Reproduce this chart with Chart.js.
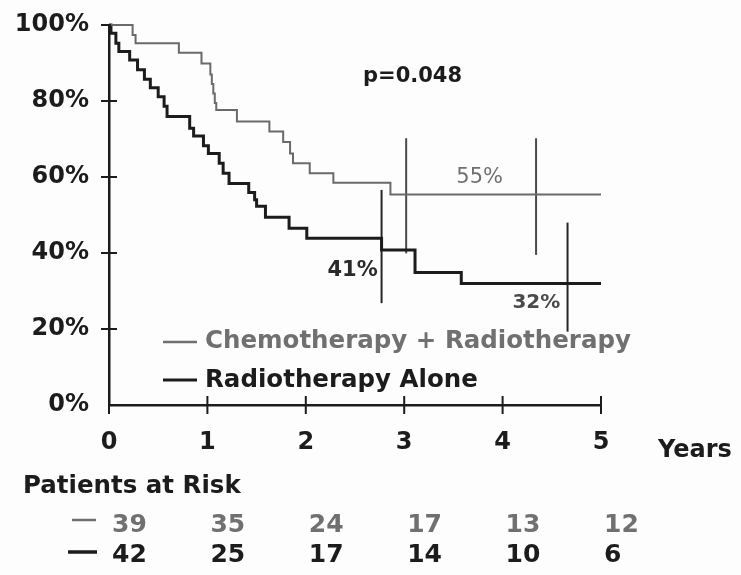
<!DOCTYPE html>
<html>
<head>
<meta charset="utf-8">
<title>Survival curves</title>
<script src="https://cdn.jsdelivr.net/npm/chart.js@4.4.1/dist/chart.umd.min.js"></script>
<style>
  html, body { margin: 0; padding: 0; background: #fdfdfd; }
  #wrap { position: relative; width: 741px; height: 575px; }
</style>
</head>
<body>
<div id="wrap"><canvas id="survChart"></canvas></div>
<script>
// Kaplan-Meier curves (years, % surviving)
var chemoYears = [0, 0.24, 0.27, 0.71, 0.94, 1.03, 1.045, 1.06, 1.075, 1.09, 1.30, 1.63, 1.77, 1.84, 1.87, 2.04, 2.28, 2.86, 5.0];
var chemoSurv  = [100, 97.4, 95.2, 92.7, 89.9, 87.0, 84.5, 82.0, 79.5, 77.6, 74.6, 72.0, 69.2, 66.2, 63.6, 61.0, 58.5, 55.4, 55.4];

var radioYears = [0, 0.02, 0.07, 0.10, 0.21, 0.29, 0.36, 0.42, 0.50, 0.56, 0.59, 0.82, 0.86, 0.96, 1.01, 1.12, 1.16, 1.22, 1.42, 1.48, 1.50, 1.59, 1.83, 2.01, 2.77, 3.11, 3.58, 5.0];
var radioSurv  = [100, 97.8, 95.2, 93.0, 90.8, 88.2, 85.7, 83.5, 81.1, 78.6, 75.9, 72.8, 70.8, 68.2, 66.2, 63.6, 61.0, 58.3, 55.9, 54.0, 52.3, 49.4, 46.5, 43.9, 40.8, 34.9, 32.0, 32.0];

// confidence bars: [year, low, high]
var chemoCI = [[3.02, 39.9, 70.2], [4.34, 39.5, 70.2]];
var radioCI = [[2.77, 26.8, 56.6], [4.66, 19.3, 48.0]];

var seriesNames = ['Chemotherapy + Radiotherapy', 'Radiotherapy Alone'];
var riskYears = [0, 1, 2, 3, 4, 5];
var chemoRisk = [39, 35, 24, 17, 13, 12];
var radioRisk = [42, 25, 17, 14, 10, 6];
var pValue = 'p=0.048';
var endLabels = [['55%', 3.53, 55.4], ['41%', 2.22, 41], ['32%', 4.1, 32]];

var FONT = '"DejaVu Sans", "Liberation Sans", Arial, sans-serif';
var GREY = '#707070';
var DARK = '#1c1c1c';

function toPoints(xs, ys) {
    var pts = [];
    for (var i = 0; i < xs.length; i++) {
        pts.push({x: xs[i], y: ys[i]});
    }
    return pts;
}

function ciDataset(bar, color) {
    return {
        data: [{x: bar[0], y: bar[1]}, {x: bar[0], y: bar[2]}],
        borderColor: color,
        borderWidth: 2,
        pointRadius: 0,
        clip: false
    };
}

function text(ctx, str, x, y, size, weight, color) {
    ctx.font = weight + ' ' + size + 'px ' + FONT;
    ctx.fillStyle = color;
    ctx.textAlign = 'left';
    ctx.textBaseline = 'alphabetic';
    ctx.fillText(str, x, y);
}

function dash(ctx, x1, x2, y, color, width) {
    ctx.strokeStyle = color;
    ctx.lineWidth = width;
    ctx.beginPath();
    ctx.moveTo(x1, y);
    ctx.lineTo(x2, y);
    ctx.stroke();
}

// everything the figure has besides the curves: crossing ticks, legend, labels, risk table
var extrasPlugin = {
    id: 'extras',
    beforeDraw: function(chart) {
        var ctx = chart.ctx;
        ctx.save();
        ctx.fillStyle = '#fdfdfd';
        ctx.fillRect(0, 0, chart.width, chart.height);
        ctx.restore();
    },
    afterDraw: function(chart) {
        var ctx = chart.ctx;
        var xs = chart.scales.x;
        var ys = chart.scales.y;
        var area = chart.chartArea;
        var i;

        ctx.save();
        ctx.strokeStyle = DARK;
        ctx.lineWidth = 2;
        ctx.beginPath();
        for (i = 20; i <= 100; i += 20) {
            ctx.moveTo(area.left - 8, ys.getPixelForValue(i));
            ctx.lineTo(area.left + (i == 100 ? 2 : 8), ys.getPixelForValue(i));
        }
        for (i = 0; i <= 5; i++) {
            ctx.moveTo(xs.getPixelForValue(i), area.bottom - (i == 0 ? 0 : 9));
            ctx.lineTo(xs.getPixelForValue(i), area.bottom + 9);
        }
        ctx.stroke();

        text(ctx, pValue, 363, 82, 21, 'bold', DARK);

        text(ctx, endLabels[0][0], xs.getPixelForValue(endLabels[0][1]), ys.getPixelForValue(endLabels[0][2]) - 11, 21, 'normal', GREY);
        text(ctx, endLabels[1][0], xs.getPixelForValue(endLabels[1][1]), ys.getPixelForValue(endLabels[1][2]) + 27, 21, 'bold', '#2a2a2a');
        text(ctx, endLabels[2][0], xs.getPixelForValue(endLabels[2][1]), ys.getPixelForValue(endLabels[2][2]) + 25, 20, 'bold', '#4a4a4a');

        // legend
        dash(ctx, 163, 197, 342, GREY, 2.5);
        text(ctx, seriesNames[0], 205, 348, 24.5, 'bold', GREY);
        dash(ctx, 163, 197, 380, DARK, 3);
        text(ctx, seriesNames[1], 205, 387, 24.5, 'bold', DARK);

        text(ctx, 'Years', 658, 457, 24, 'bold', DARK);

        // patients at risk
        text(ctx, 'Patients at Risk', 23, 493, 24.5, 'bold', DARK);
        dash(ctx, 72, 96, 520, GREY, 2.5);
        dash(ctx, 68, 97, 552, DARK, 3.5);
        for (i = 0; i < riskYears.length; i++) {
            var left = xs.getPixelForValue(riskYears[i]) + 3;
            text(ctx, String(chemoRisk[i]), left, 532, 25, 'bold', GREY);
            text(ctx, String(radioRisk[i]), left, 562, 25, 'bold', DARK);
        }
        ctx.restore();
    }
};

var datasets = [
    {
        label: seriesNames[0],
        data: toPoints(chemoYears, chemoSurv),
        borderColor: '#6a6a6a',
        borderWidth: 2,
        stepped: 'before',
        pointRadius: 0,
        clip: false
    },
    {
        label: seriesNames[1],
        data: toPoints(radioYears, radioSurv),
        borderColor: DARK,
        borderWidth: 3,
        stepped: 'before',
        pointRadius: 0,
        clip: false
    }
];
chemoCI.forEach(function(bar) { datasets.push(ciDataset(bar, '#4a4a4a')); });
radioCI.forEach(function(bar) { datasets.push(ciDataset(bar, '#262626')); });

new Chart(document.getElementById('survChart'), {
    type: 'line',
    data: { datasets: datasets },
    options: {
        responsive: true,
        maintainAspectRatio: false,
        animation: false,
        layout: { padding: { left: 0, top: 25, right: 140, bottom: 120 } },
        plugins: {
            legend: { display: false },
            tooltip: { enabled: false }
        },
        scales: {
            x: {
                type: 'linear',
                min: 0,
                max: 5,
                grid: { display: false },
                border: { display: true, color: DARK, width: 2.5 },
                ticks: {
                    stepSize: 1,
                    padding: 15,
                    color: DARK,
                    font: { family: FONT, size: 24, weight: 'bold' }
                },
                afterFit: function(scale) {
                    scale.height = 50;
                    scale.paddingLeft = 0;
                    scale.paddingRight = 0;
                }
            },
            y: {
                min: 0,
                max: 100,
                grid: { display: false },
                border: { display: true, color: DARK, width: 2.5 },
                ticks: {
                    stepSize: 20,
                    padding: 12,
                    color: DARK,
                    font: { family: FONT, size: 24, weight: 'bold' },
                    callback: function(v) { return v + '%'; }
                },
                afterFit: function(scale) {
                    scale.width = 109;
                    scale.paddingTop = 0;
                    scale.paddingBottom = 0;
                }
            }
        }
    },
    plugins: [extrasPlugin]
});
</script>
</body>
</html>
